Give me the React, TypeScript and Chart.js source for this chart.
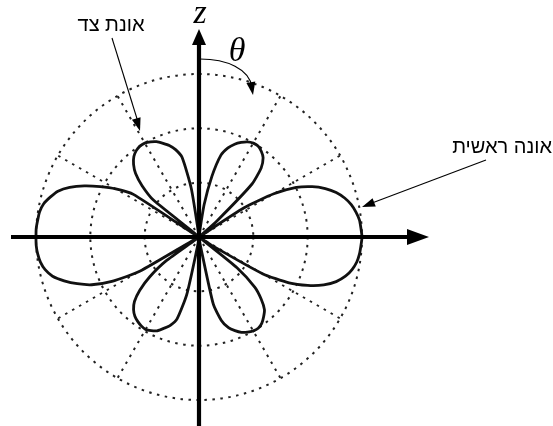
import React, { useEffect, useRef } from "react";
import { Chart, registerables } from "chart.js";

Chart.register(...registerables);

// Polar angle θ (degrees), measured clockwise from the z axis, sampled every 3°.
const THETA_Q1 = [0, 3, 6, 9, 12, 15, 18, 21, 24, 27, 30, 33, 36, 39, 42, 45, 48, 51, 54, 57, 60, 63, 66, 69, 72, 75, 78, 81, 84, 87];
const THETA_Q2 = [90, 93, 96, 99, 102, 105, 108, 111, 114, 117, 120, 123, 126, 129, 132, 135, 138, 141, 144, 147, 150, 153, 156, 159, 162, 165, 168, 171, 174, 177];
const THETA_Q3 = [180, 183, 186, 189, 192, 195, 198, 201, 204, 207, 210, 213, 216, 219, 222, 225, 228, 231, 234, 237, 240, 243, 246, 249, 252, 255, 258, 261, 264, 267];
const THETA_Q4 = [270, 273, 276, 279, 282, 285, 288, 291, 294, 297, 300, 303, 306, 309, 312, 315, 318, 321, 324, 327, 330, 333, 336, 339, 342, 345, 348, 351, 354, 357];

// Normalised radiation pattern |F(θ)| for each quadrant (1 = main-lobe peak).
const GAIN_Q1 = [0, 0, 0.02, 0.2, 0.38, 0.52, 0.575, 0.61, 0.635, 0.655, 0.665, 0.665, 0.65, 0.625, 0.57, 0.46, 0.15, 0, 0, 0.33, 0.53, 0.67, 0.76, 0.83, 0.885, 0.925, 0.955, 0.975, 0.99, 0.995];
const GAIN_Q2 = [1.0, 0.995, 0.99, 0.98, 0.96, 0.93, 0.885, 0.82, 0.73, 0.62, 0.45, 0.1, 0, 0.3, 0.46, 0.54, 0.6, 0.63, 0.655, 0.667, 0.665, 0.655, 0.64, 0.615, 0.585, 0.53, 0.42, 0.05, 0.01, 0];
const GAIN_Q3 = [0, 0, 0.02, 0.06, 0.36, 0.52, 0.57, 0.6, 0.63, 0.645, 0.655, 0.65, 0.64, 0.625, 0.6, 0.56, 0.49, 0.39, 0.25, 0, 0.42, 0.6, 0.72, 0.8, 0.87, 0.93, 0.965, 0.985, 0.995, 1.0];
const GAIN_Q4 = [1.0, 1.0, 0.995, 0.99, 0.975, 0.945, 0.91, 0.85, 0.77, 0.68, 0.59, 0.48, 0, 0.36, 0.47, 0.55, 0.6, 0.635, 0.655, 0.665, 0.665, 0.655, 0.64, 0.615, 0.59, 0.555, 0.5, 0.3, 0.02, 0];

// Reference circles of the polar grid and spacing of the radial spokes.
const RING_VALUES = [0, 1 / 3, 2 / 3, 1];
const SPOKE_STEP_DEG = 30;

// Annotation texts.
const AXIS_LABEL = "z";
const ANGLE_LABEL = "θ";
const SIDE_LOBE_LABEL = "אונת צד";
const MAIN_LOBE_LABEL = "אונה ראשית";

const THETA = [...THETA_Q1, ...THETA_Q2, ...THETA_Q3, ...THETA_Q4];
const GAIN = [...GAIN_Q1, ...GAIN_Q2, ...GAIN_Q3, ...GAIN_Q4];

const GRID_COLOR = "#222";
const GRID_DASH = [2.5, 5.5];
const GRID_WIDTH = 2;

function arrowHead(ctx: CanvasRenderingContext2D, fx: number, fy: number, tx: number, ty: number, len: number, half: number) {
  const a = Math.atan2(ty - fy, tx - fx);
  const bx = tx - len * Math.cos(a);
  const by = ty - len * Math.sin(a);
  const nx = -Math.sin(a) * half;
  const ny = Math.cos(a) * half;
  ctx.beginPath();
  ctx.moveTo(tx, ty);
  ctx.lineTo(bx + nx, by + ny);
  ctx.lineTo(bx - nx, by - ny);
  ctx.closePath();
  ctx.fill();
}

const annotations = {
  id: "annotations",
  afterDatasetsDraw(chart: any) {
    const ctx: CanvasRenderingContext2D = chart.ctx;
    const r = chart.scales.r;
    const cx = r.xCenter;
    const cy = r.yCenter;
    ctx.save();
    ctx.fillStyle = "#000";
    ctx.strokeStyle = "#000";
    ctx.lineCap = "butt";

    // x axis with arrow
    ctx.lineWidth = 4.2;
    ctx.beginPath();
    ctx.moveTo(cx - 188, cy);
    ctx.lineTo(cx + 212, cy);
    ctx.stroke();
    arrowHead(ctx, cx, cy, cx + 230, cy, 22, 8);

    // z axis with arrow
    ctx.beginPath();
    ctx.moveTo(cx, cy + 200);
    ctx.lineTo(cx, cy - 192);
    ctx.stroke();
    arrowHead(ctx, cx, cy, cx, cy - 208, 16, 7);

    // θ sweep arc
    ctx.lineWidth = 1.2;
    ctx.beginPath();
    ctx.moveTo(cx + 1, cy - 178);
    ctx.bezierCurveTo(cx + 28, cy - 178, cx + 50, cy - 168, cx + 53, cy - 150);
    ctx.stroke();
    arrowHead(ctx, cx + 51, cy - 160, cx + 54, cy - 142, 13, 4.5);

    // lobe pointers
    ctx.lineWidth = 1.1;
    ctx.beginPath();
    ctx.moveTo(112, 38);
    ctx.lineTo(138, 122);
    ctx.stroke();
    arrowHead(ctx, 112, 38, 140, 131, 13, 4.5);

    ctx.beginPath();
    ctx.moveTo(486, 160);
    ctx.lineTo(372, 203);
    ctx.stroke();
    arrowHead(ctx, 486, 160, 362, 207, 13, 4.5);

    // labels
    ctx.textBaseline = "alphabetic";
    ctx.textAlign = "center";
    ctx.font = "italic 34px 'Liberation Serif', 'DejaVu Serif', serif";
    ctx.fillText(AXIS_LABEL, cx + 1, 23);
    ctx.fillText(ANGLE_LABEL, cx + 38, 61);

    ctx.font = "20px 'Liberation Sans', 'DejaVu Sans', sans-serif";
    ctx.fillText(SIDE_LOBE_LABEL, 111, 31);
    ctx.textAlign = "right";
    ctx.fillText(MAIN_LOBE_LABEL, 552, 153);
    ctx.restore();
  },
};

export default function App() {
  const canvasRef = useRef<HTMLCanvasElement | null>(null);

  useEffect(() => {
    document.body.style.margin = "0";
    const canvas = canvasRef.current;
    if (!canvas) return;
    const chart = new Chart(canvas, {
      type: "radar",
      data: {
        labels: THETA.map((t) => String(t)),
        datasets: [
          {
            data: GAIN,
            borderColor: "#111",
            borderWidth: 2.8,
            pointRadius: 0,
            fill: false,
            tension: 0.2,
          },
        ],
      },
      options: {
        responsive: false,
        animation: false,
        devicePixelRatio: 1,
        layout: { padding: { left: 36, right: 191, top: 74, bottom: 26 } },
        plugins: { legend: { display: false }, tooltip: { enabled: false } },
        scales: {
          r: {
            min: 0,
            max: 1,
            startAngle: 0,
            afterBuildTicks: (scale: any) => {
              scale.ticks = RING_VALUES.map((v) => ({ value: v }));
            },
            ticks: { display: false },
            pointLabels: { display: false },
            grid: { circular: true, color: GRID_COLOR, lineWidth: GRID_WIDTH },
            border: { dash: GRID_DASH },
            angleLines: {
              display: true,
              color: (c: any) => (THETA[c.index] % SPOKE_STEP_DEG === 0 ? GRID_COLOR : "rgba(0,0,0,0)"),
              lineWidth: (c: any) => (THETA[c.index] % SPOKE_STEP_DEG === 0 ? GRID_WIDTH : 0),
              borderDash: GRID_DASH,
            },
          },
        },
      },
      plugins: [annotations],
    });
    return () => chart.destroy();
  }, []);

  return (
    <div style={{ width: 553, height: 426, background: "#fff" }}>
      <canvas ref={canvasRef} width={553} height={426} />
    </div>
  );
}
